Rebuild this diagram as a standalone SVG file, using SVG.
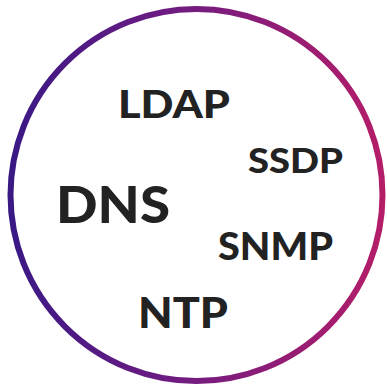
<svg xmlns="http://www.w3.org/2000/svg" width="387" height="389" viewBox="0 0 387 389">
  <defs>
    <linearGradient id="ring" x1="0" y1="0" x2="1" y2="0">
      <stop offset="0" stop-color="#3a1985"/>
      <stop offset="0.5" stop-color="#761c80"/>
      <stop offset="1" stop-color="#b41d68"/>
    </linearGradient>
  </defs>
  <style>
    .lbl { font-family: "Lato", "Liberation Sans", sans-serif; font-weight: 900; fill: #222222; }
  </style>
  <rect width="387" height="389" fill="#ffffff"/>
  <g id="ring-node">
    <circle cx="196.5" cy="195" r="186" fill="none" stroke="url(#ring)" stroke-width="6"/>
  </g>
  <g id="ldap"><text class="lbl" x="118" y="118" font-size="38.5" textLength="112" lengthAdjust="spacingAndGlyphs">LDAP</text></g>
  <g id="ssdp"><text class="lbl" x="248" y="172.5" font-size="35" textLength="95" lengthAdjust="spacingAndGlyphs">SSDP</text></g>
  <g id="dns"><text class="lbl" x="56" y="222.5" font-size="52" textLength="114" lengthAdjust="spacingAndGlyphs">DNS</text></g>
  <g id="snmp"><text class="lbl" x="218" y="260" font-size="37.5" textLength="115" lengthAdjust="spacingAndGlyphs">SNMP</text></g>
  <g id="ntp"><text class="lbl" x="138" y="328" font-size="41.5" textLength="90" lengthAdjust="spacingAndGlyphs">NTP</text></g>
</svg>
